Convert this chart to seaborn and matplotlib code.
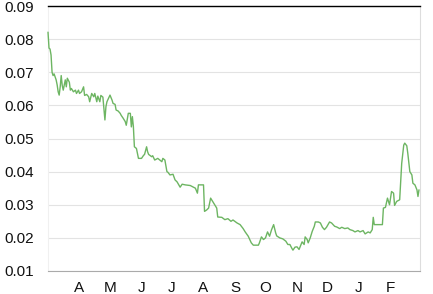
import matplotlib
matplotlib.use("Agg")
import matplotlib.pyplot as plt
import matplotlib.ticker as mticker
import seaborn as sns
import pandas as pd

# day offsets from 2021-03-01 and values
day_offsets = [0, 1, 2, 3, 4, 5, 6, 8, 9, 10, 11, 12, 13, 14, 15, 17, 18, 19, 21, 22,
               23, 25, 27, 28, 30, 31, 33, 35, 36, 38, 40, 41, 43, 45, 46, 48, 49, 51, 52, 54,
               56, 57, 58, 61, 63, 64, 66, 67, 69, 71, 72, 74, 76, 77, 79, 81, 82, 83, 84, 85,
               87, 89, 92, 94, 95, 97, 98, 99, 102, 103, 105, 108, 110, 112, 113, 115, 117, 118, 120, 123,
               125, 127, 130, 132, 135, 140, 145, 147, 148, 153, 154, 156, 158, 160, 162, 164, 166, 167, 171, 174,
               177, 180, 182, 186, 189, 192, 194, 197, 200, 202, 207, 208, 210, 212, 214, 216, 218, 220, 222, 224,
               225, 228, 231, 234, 236, 238, 240, 241, 243, 245, 247, 250, 252, 253, 255, 256, 258, 260, 262, 263,
               266, 268, 270, 272, 274, 277, 279, 282, 284, 287, 289, 292, 295, 297, 300, 302, 305, 307, 310, 312,
               315, 317, 319, 320, 321, 325, 329, 330, 332, 334, 336, 338, 340, 341, 343, 346, 348, 350, 351, 353,
               354, 356, 358, 359, 361, 363, 364, 365]
values = [0.0821, 0.0773, 0.0770, 0.0752, 0.0700, 0.0690, 0.0695, 0.0677, 0.0662, 0.0641, 0.0631, 0.0656, 0.0690, 0.0660, 0.0646, 0.0677, 0.0656, 0.0682, 0.0670, 0.0646,
          0.0651, 0.0641, 0.0646, 0.0636, 0.0646, 0.0636, 0.0641, 0.0656, 0.0630, 0.0633, 0.0626, 0.0611, 0.0636, 0.0626, 0.0636, 0.0611, 0.0628, 0.0611, 0.0630, 0.0625,
          0.0556, 0.0596, 0.0611, 0.0631, 0.0616, 0.0606, 0.0603, 0.0586, 0.0583, 0.0576, 0.0570, 0.0561, 0.0551, 0.0540, 0.0576, 0.0576, 0.0535, 0.0566, 0.0536, 0.0475,
          0.0470, 0.0440, 0.0440, 0.0449, 0.0452, 0.0475, 0.0460, 0.0452, 0.0445, 0.0448, 0.0435, 0.0440, 0.0435, 0.0430, 0.0440, 0.0435, 0.0400, 0.0398, 0.0390, 0.0392,
          0.0375, 0.0369, 0.0353, 0.0362, 0.0360, 0.0358, 0.0350, 0.0335, 0.0360, 0.0360, 0.0280, 0.0284, 0.0290, 0.0320, 0.0310, 0.0300, 0.0290, 0.0263, 0.0262, 0.0255,
          0.0258, 0.0250, 0.0254, 0.0245, 0.0240, 0.0228, 0.0218, 0.0205, 0.0185, 0.0178, 0.0178, 0.0185, 0.0203, 0.0195, 0.0200, 0.0218, 0.0205, 0.0225, 0.0240, 0.0215,
          0.0206, 0.0200, 0.0197, 0.0190, 0.0180, 0.0180, 0.0168, 0.0163, 0.0172, 0.0173, 0.0165, 0.0188, 0.0180, 0.0203, 0.0195, 0.0185, 0.0200, 0.0220, 0.0235, 0.0248,
          0.0248, 0.0245, 0.0232, 0.0225, 0.0232, 0.0248, 0.0245, 0.0235, 0.0233, 0.0228, 0.0232, 0.0228, 0.0230, 0.0225, 0.0222, 0.0218, 0.0222, 0.0218, 0.0222, 0.0212,
          0.0218, 0.0215, 0.0225, 0.0262, 0.0240, 0.0240, 0.0240, 0.0290, 0.0292, 0.0320, 0.0300, 0.0340, 0.0335, 0.0298, 0.0310, 0.0315, 0.0425, 0.0480, 0.0486, 0.0478,
          0.0455, 0.0400, 0.0390, 0.0365, 0.0360, 0.0345, 0.0325, 0.0345]

y_ticks = [0.01, 0.02, 0.03, 0.04, 0.05, 0.06, 0.07, 0.08, 0.09]
month_labels = ["A", "M", "J", "J", "A", "S", "O", "N", "D", "J", "F"]

start = pd.Timestamp("2021-03-01")
dates = [start + pd.Timedelta(days=d) for d in day_offsets]
df = pd.DataFrame({"date": dates, "value": values})

sns.set_style("white")
plt.rcParams["font.family"] = ["Liberation Sans", "DejaVu Sans"]

fig = plt.figure(figsize=(4.33, 2.94), dpi=100)
ax = fig.add_axes([48/433, 23/294, 372/433, 265/294])

sns.lineplot(data=df, x="date", y="value", ax=ax, color="#6db562", linewidth=1.0, zorder=3)
for ln in ax.lines:
    ln.set_clip_on(False)

ax.set_xlim(pd.Timestamp("2021-03-01"), pd.Timestamp("2022-03-02"))
ax.set_ylim(0.01, 0.09)
ax.set_yticks(y_ticks)
ax.yaxis.set_major_formatter(mticker.FormatStrFormatter("%.2f"))

month_ticks = pd.date_range("2021-04-01", "2022-02-01", freq="MS")
ax.set_xticks(month_ticks)
ax.set_xticklabels(month_labels)

ax.grid(axis="y", color="#e3e3e3", linewidth=0.8)
ax.set_axisbelow(True)
ax.set_xlabel("")
ax.set_ylabel("")

ax.spines["left"].set_color("#f0f0f0")
ax.spines["left"].set_linewidth(0.8)
ax.spines["right"].set_color("#dddddd")
ax.spines["right"].set_linewidth(0.8)
ax.spines["bottom"].set_color("#aaaaaa")
ax.spines["bottom"].set_linewidth(0.8)
ax.spines["top"].set_color("black")
ax.spines["top"].set_linewidth(1.0)

ax.tick_params(axis="y", length=4, width=0.8, color="#999999", pad=6, labelsize=11, labelcolor="#111111")
ax.tick_params(axis="x", length=4, width=0.8, color="#999999", pad=3, labelsize=11, labelcolor="#111111")
ax.yaxis.get_major_ticks()[-1].tick1line.set_color("black")

fig.savefig("out.png", dpi=100)
